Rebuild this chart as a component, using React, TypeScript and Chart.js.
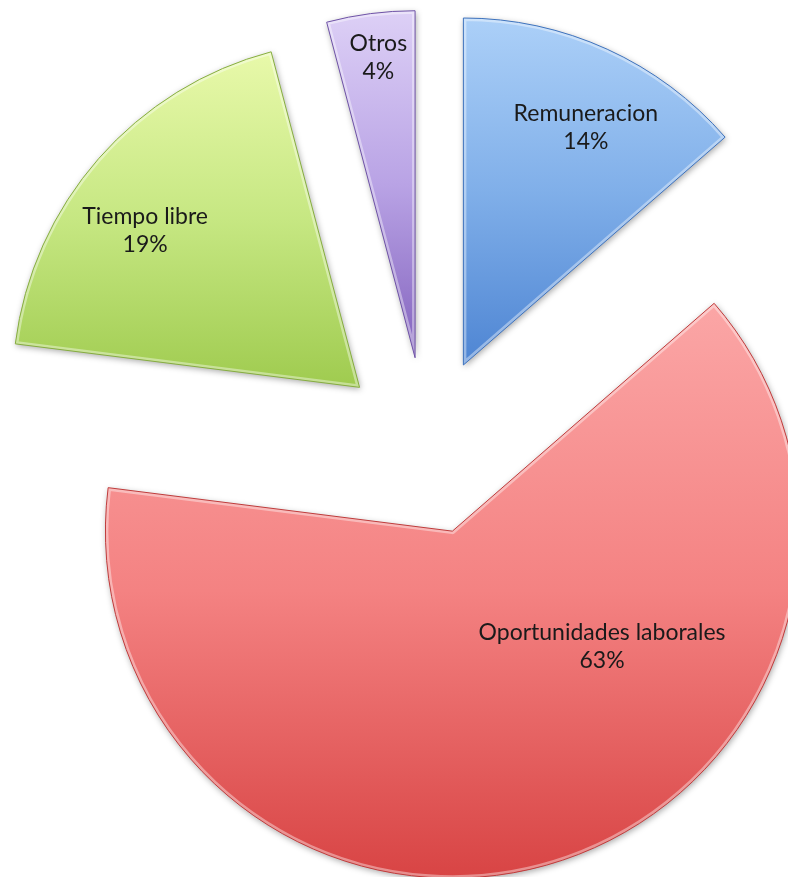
import React, { useEffect, useRef } from 'react';
import { Chart, registerables } from 'chart.js';

Chart.register(...registerables);

// ---- data ----
const categories = ['Remuneracion', 'Oportunidades laborales', 'Tiempo libre', 'Otros'];
const values = [13.6, 63.4, 18.9, 4.1];
const percentLabels = ['14%', '63%', '19%', '4%'];

// ---- styles ----
const topColors = ['#acd0f8', '#fba6a6', '#e8f9aa', '#ddd0f6'];
const midColors = ['#80afe9', '#f48282', '#c6e782', '#b9a3e5'];
const bottomColors = ['#4e85d3', '#d84444', '#9fcb4f', '#8262bd'];
const borderColors = ['#3f73bd', '#c03c3c', '#86ad40', '#6e52a6'];
const labelAngleShift = [2.8, -35.4, -5.1, 0.4]; // degrees, clockwise
const labelRadiusFrac = [0.77, 0.545, 0.765, 0.871];

const EXPLODE = 89;
const RADIUS = 347;
const FONT = '23px Lato, "Open Sans", sans-serif';
const LINE_GAP = 28;

const explodedPie = {
  id: 'explodedPie',
  beforeDatasetDraw(chart: any, args: any) {
    const ctx: CanvasRenderingContext2D = chart.ctx;
    const meta = chart.getDatasetMeta(args.index);
    meta.data.forEach((el: any, i: number) => {
      const { x, y, startAngle, endAngle, outerRadius } = el.getProps(
        ['x', 'y', 'startAngle', 'endAngle', 'outerRadius'],
        true
      );
      const mid = (startAngle + endAngle) / 2;
      const dx = Math.cos(mid) * EXPLODE;
      const dy = Math.sin(mid) * EXPLODE;
      let ymin = y;
      let ymax = y;
      const angles = [startAngle, endAngle];
      for (const a of [-Math.PI / 2, Math.PI / 2, (3 * Math.PI) / 2]) {
        if (a >= startAngle && a <= endAngle) angles.push(a);
      }
      angles.forEach((a) => {
        const py = y + Math.sin(a) * outerRadius;
        ymin = Math.min(ymin, py);
        ymax = Math.max(ymax, py);
      });
      ctx.save();
      ctx.translate(dx, dy);
      const g = ctx.createLinearGradient(0, ymin, 0, ymax);
      g.addColorStop(0, topColors[i]);
      g.addColorStop(0.5, midColors[i]);
      g.addColorStop(1, bottomColors[i]);
      const path = () => {
        ctx.beginPath();
        ctx.moveTo(x, y);
        ctx.arc(x, y, outerRadius, startAngle, endAngle);
        ctx.closePath();
      };
      ctx.shadowColor = 'rgba(0,0,0,0.35)';
      ctx.shadowBlur = 6;
      ctx.shadowOffsetX = 1;
      ctx.shadowOffsetY = 2;
      const orig = el.options;
      el.options = { ...orig, backgroundColor: g, borderWidth: 0 };
      el.draw(ctx);
      el.options = orig;
      ctx.shadowColor = 'transparent';
      ctx.shadowBlur = 0;
      ctx.shadowOffsetX = 0;
      ctx.shadowOffsetY = 0;
      ctx.save();
      path();
      ctx.clip();
      ctx.lineJoin = 'round';
      ctx.strokeStyle = 'rgba(255,255,255,0.4)';
      ctx.lineWidth = 6;
      path();
      ctx.stroke();
      ctx.restore();
      ctx.lineJoin = 'round';
      ctx.strokeStyle = borderColors[i];
      ctx.lineWidth = 1;
      path();
      ctx.stroke();
      ctx.restore();
    });
    return false;
  },
  afterDatasetsDraw(chart: any) {
    const ctx: CanvasRenderingContext2D = chart.ctx;
    const meta = chart.getDatasetMeta(0);
    ctx.save();
    ctx.font = FONT;
    ctx.fillStyle = '#1a1a1a';
    ctx.textAlign = 'center';
    ctx.textBaseline = 'middle';
    meta.data.forEach((el: any, i: number) => {
      const { x, y, startAngle, endAngle, outerRadius } = el.getProps(
        ['x', 'y', 'startAngle', 'endAngle', 'outerRadius'],
        true
      );
      const mid = (startAngle + endAngle) / 2;
      const ax = x + Math.cos(mid) * EXPLODE;
      const ay = y + Math.sin(mid) * EXPLODE;
      const la = mid + (labelAngleShift[i] * Math.PI) / 180;
      const lr = outerRadius * labelRadiusFrac[i];
      const lx = ax + Math.cos(la) * lr;
      const ly = ay + Math.sin(la) * lr;
      ctx.fillText(categories[i], lx, ly - LINE_GAP / 2);
      ctx.fillText(percentLabels[i], lx, ly + LINE_GAP / 2);
    });
    ctx.restore();
  },
};

export default function App() {
  const canvasRef = useRef<HTMLCanvasElement>(null);

  useEffect(() => {
    if (!canvasRef.current) return;
    const chart = new Chart(canvasRef.current, {
      type: 'pie',
      data: {
        labels: categories,
        datasets: [
          {
            data: values,
            backgroundColor: midColors,
            borderWidth: 0,
            radius: RADIUS,
          } as any,
        ],
      },
      options: {
        animation: false,
        responsive: true,
        maintainAspectRatio: false,
        layout: { padding: { left: 65, top: 15, right: 0, bottom: 0 } },
        plugins: {
          legend: { display: false },
          tooltip: { enabled: false },
        },
        events: [],
      },
      plugins: [explodedPie],
    });
    return () => chart.destroy();
  }, []);

  return (
    <div style={{ position: 'fixed', left: 0, top: 0, width: 788, height: 877, background: '#fff' }}>
      <canvas ref={canvasRef} />
    </div>
  );
}
